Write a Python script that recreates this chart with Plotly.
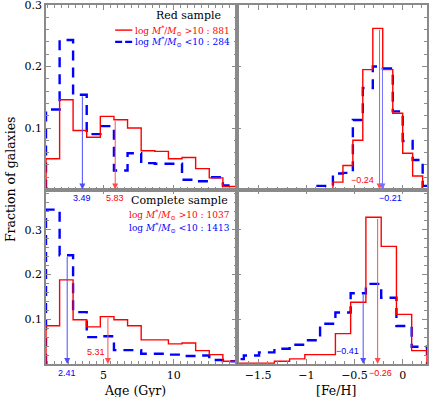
import numpy as np
import plotly.graph_objects as go
from plotly.subplots import make_subplots

## DATA (fractions)

# age bins (Gyr), same for both rows
age_edges = [0.9, 1.87, 2.83, 3.8, 4.77, 5.74, 6.71, 7.68, 8.65, 9.62, 10.59, 11.56, 12.53, 13.5, 14.47]

# red sample
age_red_hi = [0.050, 0.146, 0.096, 0.085, 0.119, 0.1135, 0.100, 0.063, 0.062, 0.050, 0.052, 0.034, 0.019, 0.005]
age_red_lo = [0.130, 0.243, 0.154, 0.090, 0.103, 0.031, 0.059, 0.043, 0.042, 0.042, 0.016, 0.0135, 0.020, 0.0065]
# complete sample
age_all_hi = [0.0856, 0.188, 0.099, 0.083, 0.106, 0.099, 0.0856, 0.054, 0.054, 0.045, 0.047, 0.030, 0.021, 0.006]
age_all_lo = [0.345, 0.243, 0.116, 0.060, 0.062, 0.031, 0.031, 0.023, 0.023, 0.021, 0.018, 0.019, 0.009, 0.006]

# [Fe/H] bins, red sample (top) and complete sample (bottom)
feh_edges_red = [-1.034, -0.931, -0.827, -0.724, -0.62, -0.517, -0.414, -0.31, -0.207, -0.103, 0.0, 0.103, 0.207, 0.31]
feh_red_hi = [0.001, 0.001, 0.001, 0.012, 0.039, 0.080, 0.195, 0.262, 0.195, 0.124, 0.059, 0.022, 0.001]
feh_red_lo = [0.0, 0.006, 0.006, 0.026, 0.027, 0.113, 0.165, 0.200, 0.197, 0.127, 0.079, 0.048, 0.006]

feh_edges_all = [-1.807, -1.648, -1.49, -1.331, -1.173, -1.015, -0.857, -0.698, -0.54, -0.382, -0.223, -0.065, 0.093, 0.252]
feh_all_hi = [0.002, 0.002, 0.002, 0.006, 0.0115, 0.021, 0.021, 0.068, 0.138, 0.328, 0.263, 0.111, 0.030]
feh_all_lo = [0.011, 0.019, 0.026, 0.034, 0.043, 0.053, 0.090, 0.115, 0.158, 0.179, 0.148, 0.085, 0.0385]

# medians (arrows)
med_age_red = {"hi": 5.83, "lo": 3.49}
med_age_all = {"hi": 5.31, "lo": 2.41}
med_feh_red = {"hi": -0.24, "lo": -0.21}
med_feh_all = {"hi": -0.26, "lo": -0.41}

RED = "#ff0000"
BLUE = "#0000ff"
GREY = "#8a8a8a"
SERIF = "DejaVu Serif"
SANS = "Liberation Sans"


def steps(edges, vals):
    # outline of a histogram for line_shape='hv'
    x = [edges[0]] + list(edges)
    y = [0] + list(vals) + [0]
    return x, y


def height_at(edges, vals, x):
    i = int(np.searchsorted(edges, x)) - 1
    return vals[i]


fig = make_subplots(rows=2, cols=2, horizontal_spacing=0, vertical_spacing=0,
                    row_heights=[0.514, 0.486])

panels = [
    (1, 1, age_edges, age_red_hi, age_red_lo),
    (1, 2, feh_edges_red, feh_red_hi, feh_red_lo),
    (2, 1, age_edges, age_all_hi, age_all_lo),
    (2, 2, feh_edges_all, feh_all_hi, feh_all_lo),
]
for r, c, ed, hi, lo in panels:
    x, y = steps(ed, lo)
    fig.add_trace(go.Scatter(x=x, y=y, mode="lines", line_shape="hv",
                             line=dict(color=BLUE, width=2.4, dash="10px,7px"),
                             hoverinfo="skip"), row=r, col=c)
    x, y = steps(ed, hi)
    fig.add_trace(go.Scatter(x=x, y=y, mode="lines", line_shape="hv",
                             line=dict(color=RED, width=1.4),
                             hoverinfo="skip"), row=r, col=c)

# frame / ticks
common = dict(showline=True, linecolor=GREY, linewidth=1.5, mirror="allticks",
              ticks="inside", ticklen=5, tickcolor=GREY, tickwidth=1,
              showgrid=False, zeroline=False, automargin=False,
              ticklabeloverflow="allow",
              tickfont=dict(family=SERIF, size=11, color="black"))

age_range = [0.9, 14.47]
feh_range = [-1.724, 0.252]
for r in (1, 2):
    fig.update_xaxes(range=age_range, tickvals=[5, 10], showticklabels=(r == 2),
                     minor=dict(ticks="inside", ticklen=3, tickcolor=GREY, dtick=0.5, tick0=0),
                     row=r, col=1, **common)
    fig.update_xaxes(range=feh_range, tickvals=[-1.5, -1, -0.5, 0], showticklabels=(r == 2),
                     minor=dict(ticks="inside", ticklen=3, tickcolor=GREY, dtick=0.1, tick0=0),
                     row=r, col=2, **common)
for c in (1, 2):
    fig.update_yaxes(range=[0, 0.3], tickvals=[0.1, 0.2, 0.3], showticklabels=(c == 1),
                     minor=dict(ticks="inside", ticklen=3, tickcolor=GREY, dtick=0.02, tick0=0),
                     row=1, col=c, **common)
    fig.update_yaxes(range=[0, 0.39], tickvals=[0.1, 0.2, 0.3], showticklabels=(c == 1),
                     minor=dict(ticks="inside", ticklen=3, tickcolor=GREY, dtick=0.02, tick0=0),
                     row=2, col=c, **common)


# median arrows
def arrow(xr, yr, xpos, top, color):
    fig.add_annotation(x=xpos, y=0, ax=xpos, ay=top, xref=xr, yref=yr, axref=xr, ayref=yr,
                       text="", showarrow=True, arrowhead=2, arrowsize=1.2, arrowwidth=1,
                       arrowcolor=color, standoff=0, startstandoff=0)


arrow("x", "y", med_age_red["lo"], height_at(age_edges, age_red_lo, med_age_red["lo"]), "#4d4dff")
arrow("x", "y", med_age_red["hi"], height_at(age_edges, age_red_hi, med_age_red["hi"]), "#ff4d4d")
arrow("x2", "y2", med_feh_red["hi"], height_at(feh_edges_red, feh_red_hi, med_feh_red["hi"]), "#ff4d4d")
arrow("x2", "y2", med_feh_red["lo"], height_at(feh_edges_red, feh_red_lo, med_feh_red["lo"]), "#7070ff")
arrow("x3", "y3", med_age_all["lo"], height_at(age_edges, age_all_lo, med_age_all["lo"]), "#4d4dff")
arrow("x3", "y3", med_age_all["hi"], height_at(age_edges, age_all_hi, med_age_all["hi"]), "#ff4d4d")
arrow("x4", "y4", med_feh_all["lo"], height_at(feh_edges_all, feh_all_lo, med_feh_all["lo"]), "#4d4dff")
arrow("x4", "y4", med_feh_all["hi"], height_at(feh_edges_all, feh_all_hi, med_feh_all["hi"]), "#ff4d4d")


def label(text, xr, yr, x, y, color, **kw):
    kw.setdefault("xanchor", "center")
    kw.setdefault("yanchor", "middle")
    fig.add_annotation(text=text, xref=xr, yref=yr, x=x, y=y, showarrow=False,
                       font=dict(family=SANS, size=9, color=color), **kw)


def fmt(v):
    return f"{v:.2f}".replace("-", "\u2212")


label(fmt(med_age_red["lo"]), "x", "y", med_age_red["lo"], 0, BLUE, yanchor="top", yshift=-1)
label(fmt(med_age_red["hi"]), "x", "y", med_age_red["hi"], 0, RED, yanchor="top", yshift=-1)
label(fmt(med_feh_red["hi"]), "x2", "y2", med_feh_red["hi"], 0.0155, RED, xanchor="right", xshift=-4)
label(fmt(med_feh_red["lo"]), "x2", "y2", med_feh_red["lo"], 0, BLUE, yanchor="top", xanchor="left", xshift=-5, yshift=-1)
label(fmt(med_age_all["lo"]), "x3", "y3", med_age_all["lo"], 0, BLUE, yanchor="top", yshift=-2)
label(fmt(med_age_all["hi"]), "x3", "y3", med_age_all["hi"], 0.026, RED, xanchor="right", xshift=-1)
label(fmt(med_feh_all["lo"]), "x4", "y4", med_feh_all["lo"], 0.028, BLUE, xanchor="right", xshift=-2)
label(fmt(med_feh_all["hi"]), "x4", "y4", med_feh_all["hi"], 0, RED, yanchor="top", xshift=3, yshift=-2)

# panel keys
mass = "log <i>M</i><sup>*</sup>/<i>M</i><sub>\u2299</sub> "
keys = [
    ("Red sample", "x domain", "y domain", 0.93, 0.942, "black", 11),
    (mass + "&gt;10 : 881", "x domain", "y domain", 0.974, 0.864, RED, 9),
    (mass + "&lt;10 : 284", "x domain", "y domain", 0.974, 0.80, BLUE, 9),
    ("Complete sample", "x3 domain", "y3 domain", 0.968, 0.936, "black", 11),
    (mass + "&gt;10 : 1037", "x3 domain", "y3 domain", 0.979, 0.854, RED, 9),
    (mass + "&lt;10 : 1413", "x3 domain", "y3 domain", 0.979, 0.781, BLUE, 9),
]
for txt, xr, yr, x, y, col, sz in keys:
    fig.add_annotation(text=txt, xref=xr, yref=yr, x=x, y=y, xanchor="right", yanchor="middle",
                       showarrow=False, font=dict(family=SERIF, size=sz, color=col))

# line samples next to the red-sample key
fig.add_shape(type="line", xref="x domain", yref="y domain", x0=0.363, x1=0.453, y0=0.864, y1=0.864,
              line=dict(color=RED, width=1.4))
fig.add_shape(type="line", xref="x domain", yref="y domain", x0=0.363, x1=0.453, y0=0.80, y1=0.80,
              line=dict(color=BLUE, width=2.4, dash="7px,3px"))

# axis titles
fig.add_annotation(text="Fraction of galaxies", xref="paper", yref="paper", x=0, y=0.515,
                   xshift=-36, xanchor="center", yanchor="middle", textangle=-90, showarrow=False,
                   font=dict(family=SERIF, size=12.5, color="black"))
fig.add_annotation(text="Age (Gyr)", xref="x3 domain", yref="paper", x=0.468, y=0, yshift=-26,
                   xanchor="center", yanchor="middle",
                   showarrow=False, font=dict(family=SERIF, size=12.5, color="black"))
fig.add_annotation(text="[Fe/H]", xref="x4 domain", yref="paper", x=0.524, y=0, yshift=-26,
                   xanchor="center", yanchor="middle",
                   showarrow=False, font=dict(family=SERIF, size=12.5, color="black"))

fig.update_layout(
    width=436, height=397,
    margin=dict(l=46, r=9, t=5, b=33),
    plot_bgcolor="white", paper_bgcolor="white",
    showlegend=False,
    font=dict(family=SERIF, size=11, color="black"),
)

# page body margin would shift the figure off its 436x397 window
fig.write_html("out.html", config={"displayModeBar": False},
               post_script="document.body.style.margin='0';")
